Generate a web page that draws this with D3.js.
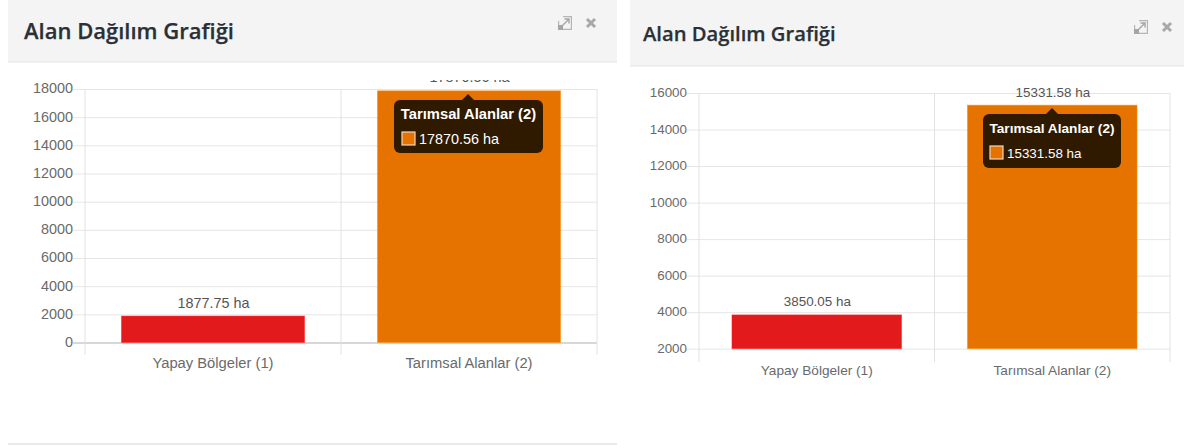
<!DOCTYPE html>
<html><head><meta charset="utf-8">
<script src="https://cdn.jsdelivr.net/npm/d3@7"></script>
<style>
html,body{margin:0;padding:0;background:#fff;overflow:hidden}
svg{display:block}
text{font-family:"Liberation Sans",Arial,sans-serif}
.title{font-family:"Open Sans",sans-serif;font-weight:600;fill:#2a3036;stroke:#2a3036;stroke-width:.25px}
</style></head><body>
<svg id="c" width="1184" height="448"></svg>
<script>
const chartTitle = "Alan Dağılım Grafiği";
const categories = ["Yapay Bölgeler (1)", "Tarımsal Alanlar (2)"];
const barColors = ["#e31a1c", "#e67300"];
const unit = " ha";
const leftValues = [1877.75, 17870.56];
const rightValues = [3850.05, 15331.58];
const leftTicks = [0,2000,4000,6000,8000,10000,12000,14000,16000,18000];
const rightTicks = [2000,4000,6000,8000,10000,12000,14000,16000];

const panels = [
 {values:leftValues,ticks:leftTicks,x0:85,x1:597,y0:342.5,y1:89,vBottom:355,catY:368,fs:14.4,catFs:14.75,inset:.1425,
  hx0:8,hx1:617,hBottom:62,titleX:24,titleY:38.5,titleFs:22,iconX:558,iconY:16,footer:444,baseline:"#b0b0b0",
  tip:{x:394,y:100,w:149,h:53,ax:468},labelClip:80,swatch:[402,132]},
 {values:rightValues,ticks:rightTicks,x0:699,x1:1170,y0:348.7,y1:93,vBottom:362,catY:375,fs:13.4,catFs:13.65,inset:.14,
  hx0:630,hx1:1184,hBottom:66,titleX:643,titleY:40.5,titleFs:20.2,iconX:1134,iconY:20,footer:null,baseline:"#e6e6e6",
  tip:{x:983,y:114,w:138,h:54,ax:1052},labelClip:0,swatch:[990,146]}
];

const svg = d3.select("#c");
const defs = svg.append("defs");

panels.forEach((p,pi)=>{
  const g = svg.append("g");
  // header
  g.append("rect").attr("x",p.hx0).attr("y",0).attr("width",p.hx1-p.hx0).attr("height",p.hBottom).attr("fill","#f4f4f4");
  g.append("line").attr("x1",p.hx0).attr("x2",p.hx1).attr("y1",p.hBottom).attr("y2",p.hBottom).attr("stroke","#e3e3e3").attr("stroke-width",1.2);
  g.append("text").attr("class","title").attr("x",p.titleX).attr("y",p.titleY).attr("font-size",p.titleFs).text(chartTitle);
  if(p.footer) g.append("line").attr("x1",p.hx0).attr("x2",p.hx1).attr("y1",p.footer).attr("y2",p.footer).attr("stroke","#d4d4d4");

  // icons
  const ic = g.append("g").attr("transform",`translate(${p.iconX},${p.iconY})`);
  ic.append("path").attr("d","M5 .6H13.4V13.4H.6V5").attr("fill","none").attr("stroke","#b5b5b5").attr("stroke-width",1.2);
  ic.append("rect").attr("x",0).attr("y",9).attr("width",5).attr("height",5).attr("fill","#a5a5a5");
  ic.append("path").attr("d","M4.5 9.5L10.5 3.5M6.5 3H11V7.5").attr("fill","none").attr("stroke","#a5a5a5").attr("stroke-width",1.4);
  g.append("path").attr("transform",`translate(${p.iconX+28},${p.iconY+2})`)
    .attr("d","M1 1L9 9M9 1L1 9").attr("stroke","#a8a8a8").attr("stroke-width",3).attr("fill","none");

  // scales
  const y = d3.scaleLinear().domain(d3.extent(p.ticks)).range([p.y0,p.y1]);
  const x = d3.scaleBand().domain(categories).range([p.x0,p.x1]);
  const w = p.x1-p.x0, tick = 12;

  // value axis (gridlines + ticks)
  const ya = g.append("g").attr("transform",`translate(${p.x1},0)`)
    .call(d3.axisLeft(y).tickValues(p.ticks).tickFormat(d3.format("d")).tickSize(w+tick).tickPadding(0));
  ya.select(".domain").remove();
  ya.selectAll("line").attr("stroke",d=>d===p.ticks[0]?p.baseline:"#e6e6e6");
  ya.selectAll("text").attr("fill","#6a6a6a").attr("font-size",p.fs).attr("font-family","Liberation Sans").attr("dy","0.27em");

  // category axis
  const edges = [p.x0].concat(categories.map(c=>x(c)+x.bandwidth()));
  g.selectAll(".v").data(edges).join("line").attr("x1",d=>d).attr("x2",d=>d)
    .attr("y1",p.y1).attr("y2",p.vBottom).attr("stroke","#e2e2e2");
  g.selectAll(".cat").data(categories).join("text")
    .attr("x",c=>x(c)+x.bandwidth()/2).attr("y",p.catY).attr("text-anchor","middle")
    .attr("fill","#6a6a6a").attr("font-size",p.catFs).text(c=>c);

  // bars
  const rows = categories.map((c,i)=>({c,v:p.values[i],col:barColors[i]}));
  const ins = x.bandwidth()*p.inset;
  g.selectAll(".bar").data(rows).join("rect")
    .attr("x",d=>x(d.c)+ins).attr("width",x.bandwidth()-2*ins)
    .attr("y",d=>y(d.v)).attr("height",d=>p.y0-y(d.v)).attr("fill",d=>d.col)
    .attr("stroke",d=>d3.color(d.col).brighter(.5)).attr("stroke-opacity",.5);

  // value labels (left chart's top label is clipped by the plot area)
  const cid = "clip"+pi;
  defs.append("clipPath").attr("id",cid).append("rect").attr("x",0).attr("y",p.labelClip).attr("width",1184).attr("height",448);
  g.append("g").attr("clip-path",`url(#${cid})`).selectAll("text").data(rows).join("text")
    .attr("x",d=>x(d.c)+x.bandwidth()/2+.6).attr("y",d=>y(d.v)-8.5).attr("text-anchor","middle")
    .attr("fill","#555").attr("font-size",p.fs).text(d=>d.v.toFixed(2)+unit);

  // tooltip
  const t = p.tip, d = rows[1], tc="#2f1a00";
  const tg = g.append("g");
  tg.append("rect").attr("x",t.x).attr("y",t.y).attr("width",t.w).attr("height",t.h).attr("rx",6).attr("fill",tc);
  tg.append("path").attr("d",`M${t.ax-6} ${t.y}L${t.ax} ${t.y-6}L${t.ax+6} ${t.y}Z`).attr("fill",tc);
  tg.append("text").attr("x",t.x+t.w/2).attr("y",t.y+19).attr("text-anchor","middle").attr("fill","#fff")
    .attr("font-weight","bold").attr("font-size",p.catFs).text(d.c);
  tg.append("rect").attr("x",p.swatch[0]).attr("y",p.swatch[1]).attr("width",13).attr("height",13)
    .attr("fill",d.col).attr("stroke","#f0d8c0").attr("stroke-width",1.2);
  tg.append("text").attr("x",p.swatch[0]+17).attr("y",p.swatch[1]+11.5).attr("fill","#fff")
    .attr("font-size",p.fs).text(d.v.toFixed(2)+unit);
});
</script></body></html>
